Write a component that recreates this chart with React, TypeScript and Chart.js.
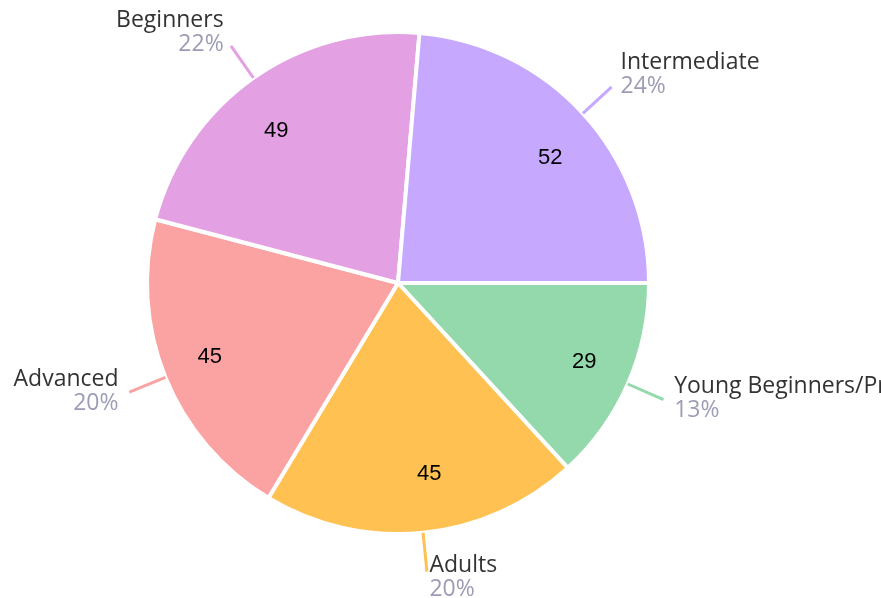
import React, { useEffect, useRef } from "react";
import { Chart, registerables } from "chart.js";

Chart.register(...registerables);

const categories = ["Young Beginners/Preschool", "Adults", "Advanced", "Beginners", "Intermediate"];
const values = [29, 45, 45, 49, 52];
const colors = ["#93d9ac", "#ffc152", "#fba3a3", "#e3a0e3", "#c6a8fe"];

const LABEL_FONT = '23px "Open Sans", "Noto Sans", sans-serif';
const VALUE_FONT = '22px "Liberation Sans", Arial, sans-serif';

const labelPlugin = {
  id: "pieLabels",
  afterDatasetsDraw(chart: any) {
    const ctx = chart.ctx;
    const meta = chart.getDatasetMeta(0);
    const ds = chart.data.datasets[0];
    const total = (ds.data as number[]).reduce((a, b) => a + b, 0);
    meta.data.forEach((arc: any, i: number) => {
      const { x, y, startAngle, endAngle, outerRadius } = arc.getProps(
        ["x", "y", "startAngle", "endAngle", "outerRadius"],
        true
      );
      const mid = (startAngle + endAngle) / 2;
      const c = Math.cos(mid);
      const s = Math.sin(mid);
      const R = outerRadius - 2;
      const right = c >= 0;
      ctx.save();
      // value inside
      ctx.font = VALUE_FONT;
      ctx.fillStyle = "#000000";
      ctx.textAlign = right ? "left" : "right";
      ctx.textBaseline = "middle";
      ctx.fillText(String(ds.data[i]), x + c * R * 0.763, y + s * R * 0.76 + 3);
      // leader line
      const x1 = x + c * (R + 2);
      const y1 = y + s * (R + 2);
      const x2 = x + c * (R + 41);
      const y2 = y + s * (R + 41);
      ctx.strokeStyle = colors[i];
      ctx.lineWidth = 3;
      ctx.beginPath();
      ctx.moveTo(x1, y1);
      ctx.lineTo(x2, y2);
      ctx.stroke();
      // labels
      const tx = x2 + (right ? 1 : -1) * (1.5 + 10 * Math.abs(c));
      const top = y2 - (27.4 - 10.4 * s);
      const nameBase = top + 17;
      const pctBase = nameBase + 24;
      ctx.textAlign = right ? "left" : "right";
      ctx.textBaseline = "alphabetic";
      ctx.font = LABEL_FONT;
      ctx.fillStyle = "#333333";
      ctx.fillText(String(chart.data.labels[i]), tx, nameBase);
      ctx.fillStyle = "#9d9cb6";
      const pct = Math.round((ds.data[i] / total) * 100) + "%";
      ctx.fillText(pct, tx, pctBase);
      ctx.restore();
    });
  },
};

export default function App() {
  const ref = useRef<HTMLCanvasElement>(null);
  useEffect(() => {
    if (!ref.current) return;
    const chart = new Chart(ref.current, {
      type: "pie",
      data: {
        labels: categories,
        datasets: [
          {
            data: values,
            backgroundColor: colors,
            borderColor: "#ffffff",
            borderWidth: 4,
          },
        ],
      },
      options: {
        responsive: false,
        animation: false,
        rotation: 90,
        layout: { padding: { left: 145, top: 30, right: 230, bottom: 62 } },
        plugins: {
          legend: { display: false },
          tooltip: { enabled: false },
        },
      },
      plugins: [labelPlugin],
    });
    return () => chart.destroy();
  }, []);
  return (
    <div style={{ position: "absolute", left: 0, top: 0, width: 881, height: 598, overflow: "hidden" }}>
      <canvas ref={ref} width={881} height={598} style={{ width: 881, height: 598 }} />
    </div>
  );
}
